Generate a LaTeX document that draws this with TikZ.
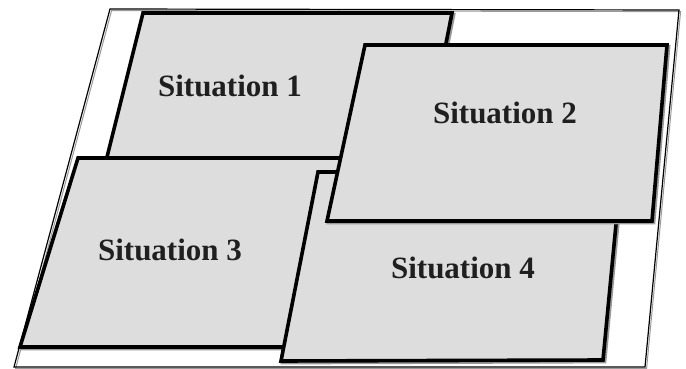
\documentclass[tikz,border=0pt]{standalone}
\usepackage{fontspec}
\setmainfont{Liberation Serif}
\definecolor{sitgray}{HTML}{DEDDDD}
\definecolor{shadowgray}{HTML}{9A9A9A}

\begin{document}
\begin{tikzpicture}[x=1pt,y=-1pt,
  sitbox/.style={fill=sitgray,draw=black,line width=3.6pt,line join=miter},
  sitshadow/.style={draw=shadowgray,line width=3.6pt,line join=miter,shift={(1.6,1.6)}},
  sitlabel/.style={font=\fontsize{31}{31}\selectfont\bfseries,text=black!88}]
\useasboundingbox (0,0) rectangle (686,369);
\draw[shadowgray,line width=1pt] (111.6,10.6) -- (680.6,11.6) -- (646.6,368.6) -- (15.6,368.6) -- cycle;
\draw[line width=1.2pt] (110,9) -- (679,10) -- (645,367) -- (14,367) -- cycle;
\draw[sitshadow] (143,13) -- (452,13) -- (422,165) -- (105,165) -- cycle;
\draw[sitbox] (143,13) -- (452,13) -- (422,165) -- (105,165) -- cycle;
\node[sitlabel] (sit1) at (230,86) {Situation 1};
\draw[sitshadow] (78,158) -- (350,158) -- (300,347) -- (20,347) -- cycle;
\draw[sitbox] (78,158) -- (350,158) -- (300,347) -- (20,347) -- cycle;
\node[sitlabel] (sit3) at (170,250) {Situation 3};
\draw[sitshadow] (318,172) -- (621,172) -- (603,360) -- (281,361) -- cycle;
\draw[sitbox] (318,172) -- (621,172) -- (603,360) -- (281,361) -- cycle;
\node[sitlabel] (sit4) at (463,268) {Situation 4};
\draw[sitshadow] (365,45) -- (667,45) -- (652,221) -- (327,221) -- cycle;
\draw[sitbox] (365,45) -- (667,45) -- (652,221) -- (327,221) -- cycle;
\node[sitlabel] (sit2) at (505,113) {Situation 2};
\end{tikzpicture}
\end{document}
